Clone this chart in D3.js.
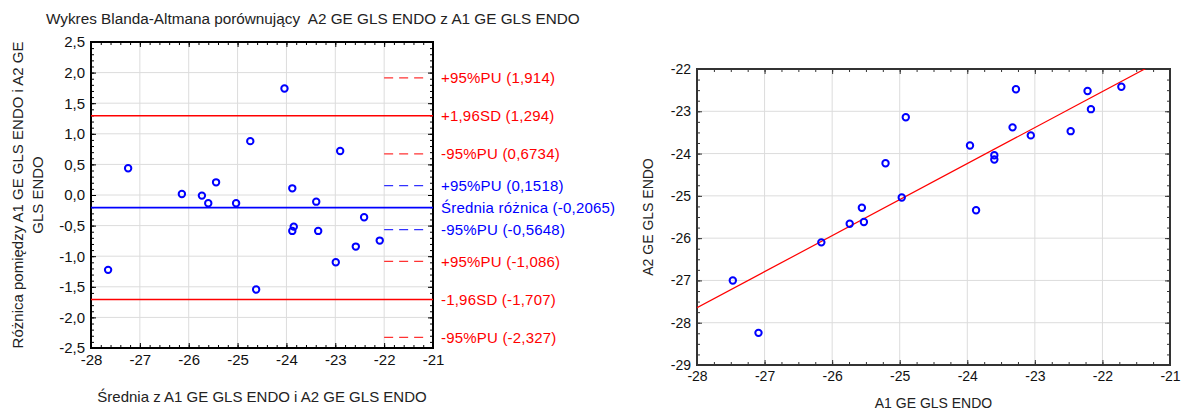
<!DOCTYPE html>
<html>
<head>
<meta charset="utf-8">
<script src="https://cdn.jsdelivr.net/npm/d3@7"></script>
<style>
  body { margin: 0; background: #fff; }
  svg { font-family: "Liberation Sans", Arial, sans-serif; }
</style>
</head>
<body>
<script>
// Bland-Altman: mean of both measurements, difference
var baMean = [-27.24, -26.14, -25.73, -25.60, -25.44, -25.03, -24.74, -24.04, -23.88, -23.39,
              -22.90, -22.41, -23.88, -23.85, -23.35, -22.09, -22.58, -22.99, -27.65, -24.62];
var baDiff = [0.436, 0.016, -0.010, -0.135, 0.207, -0.135, 0.880, 1.740, 0.109, -0.109,
              0.718, -0.364, -0.587, -0.517, -0.587, -0.745, -0.843, -1.098, -1.223, -1.545];

// reference lines of the Bland-Altman plot
var refValues = [1.914, 1.294, 0.6734, 0.1518, -0.2065, -0.5648, -1.086, -1.707, -2.327];
var refLabels = ['+95%PU (1,914)', '+1,96SD (1,294)', '-95%PU (0,6734)', '+95%PU (0,1518)',
                 'Średnia różnica (-0,2065)', '-95%PU (-0,5648)', '+95%PU (-1,086)',
                 '-1,96SD (-1,707)', '-95%PU (-2,327)'];
var refColors = ['red', 'red', 'red', 'blue', 'blue', 'blue', 'red', 'red', 'red'];
var refDashed = [true, false, true, true, false, true, true, false, true];

// scatter A1 vs A2
var a1 = [-24.91, -25.21, -24.97, -25.56, -25.74, -25.53, -23.28, -22.22, -21.72, -22.17,
          -23.33, -23.06, -22.47, -23.96, -23.60, -23.60, -23.87, -26.16, -27.47, -27.09];
var a2 = [-23.14, -24.23, -25.04, -25.28, -25.66, -25.62, -22.48, -22.52, -22.42, -22.95,
          -23.38, -23.57, -23.47, -23.81, -24.04, -24.14, -25.34, -26.10, -27.00, -28.24];
var fitSlope = 0.852, fitIntercept = -3.789;

var baXTicks = [-28, -27, -26, -25, -24, -23, -22, -21];
var baYTicks = [2.5, 2.0, 1.5, 1.0, 0.5, 0.0, -0.5, -1.0, -1.5, -2.0, -2.5];
var scXTicks = [-28, -27, -26, -25, -24, -23, -22, -21];
var scYTicks = [-22, -23, -24, -25, -26, -27, -28, -29];

var RED = '#ff0000', BLUE = '#0000ff';
var colorOf = { red: RED, blue: BLUE };
var fmtComma = function(d) { return d3.format('.1f')(d).replace('.', ',').replace('−', '-'); };
var fmtInt = function(d) { return d3.format('d')(d).replace('−', '-'); };

var svg = d3.select('body').append('svg')
    .attr('width', 1184)
    .attr('height', 410);

function range(a, b, step) {
    var out = [];
    for (var v = a; v <= b + 1e-9; v += step) out.push(+v.toFixed(4));
    return out;
}

// frame, grid and inward ticks on all four sides
function drawFrame(g, x, y, xTicks, yTicks, xMinor, yMinor, xFmt, yFmt, frameColor, fontSize) {
    var w = x.range()[1], h = y.range()[0];

    g.append('g').selectAll('line').data(xTicks.slice(1, -1)).join('line')
        .attr('x1', x).attr('x2', x).attr('y1', 0).attr('y2', h)
        .attr('stroke', '#dcdcdc');
    g.append('g').selectAll('line').data(yTicks.slice(1, -1)).join('line')
        .attr('y1', y).attr('y2', y).attr('x1', 0).attr('x2', w)
        .attr('stroke', '#dcdcdc');

    var axes = [
        [d3.axisBottom(x), 'translate(0,' + h + ')', xTicks, xMinor, xFmt],
        [d3.axisTop(x), 'translate(0,0)', xTicks, xMinor, null],
        [d3.axisLeft(y), 'translate(0,0)', yTicks, yMinor, yFmt],
        [d3.axisRight(y), 'translate(' + w + ',0)', yTicks, yMinor, null]
    ];
    axes.forEach(function(a) {
        var minor = g.append('g').attr('transform', a[1])
            .call(a[0].tickValues(a[3]).tickSize(-3).tickFormat(''));
        minor.select('.domain').remove();
        minor.selectAll('line').attr('stroke', frameColor);

        var major = g.append('g').attr('transform', a[1])
            .call(a[0].tickValues(a[2]).tickSize(-5).tickPadding(6).tickFormat(a[4] || ''));
        major.select('.domain').remove();
        major.selectAll('line').attr('stroke', frameColor);
        major.selectAll('text')
            .attr('font-size', fontSize)
            .attr('fill', '#111')
            .attr('font-family', '"Liberation Sans", Arial, sans-serif');
    });

    g.append('rect')
        .attr('width', w).attr('height', h)
        .attr('fill', 'none')
        .attr('stroke', frameColor)
        .attr('stroke-width', 2);
}

// ---------- left: Bland-Altman ----------
var L = { left: 91, top: 42, width: 342, height: 306 };
var gL = svg.append('g').attr('transform', 'translate(' + L.left + ',' + L.top + ')');

var xL = d3.scaleLinear().domain([-28, -21]).range([0, L.width]);
var yL = d3.scaleLinear().domain([-2.5, 2.5]).range([L.height, 0]);

drawFrame(gL, xL, yL, baXTicks, baYTicks, range(-28, -21, 0.2), range(-2.5, 2.5, 0.1),
          fmtInt, fmtComma, '#000', 15);

gL.append('g').selectAll('line').data(refValues).join('line')
    .attr('x1', function(d, i) { return refDashed[i] ? xL(-22) : 0; })
    .attr('x2', function(d, i) { return refDashed[i] ? xL(-21.1) : L.width; })
    .attr('y1', yL).attr('y2', yL)
    .attr('stroke', function(d, i) { return colorOf[refColors[i]]; })
    .attr('stroke-width', function(d, i) { return refDashed[i] ? 1.2 : 1.6; })
    .attr('stroke-dasharray', function(d, i) { return refDashed[i] ? '9,6' : null; })
    .attr('opacity', function(d, i) { return refDashed[i] ? 0.8 : 1; });

gL.append('g').selectAll('circle').data(baMean).join('circle')
    .attr('cx', function(d) { return xL(d); })
    .attr('cy', function(d, i) { return yL(baDiff[i]); })
    .attr('r', 3.2)
    .attr('fill', 'none')
    .attr('stroke', BLUE)
    .attr('stroke-width', 2);

gL.append('g').selectAll('text').data(refLabels).join('text')
    .attr('x', L.width + 8)
    .attr('y', function(d, i) { return yL(refValues[i]); })
    .attr('dy', '0.35em')
    .attr('font-size', 15)
    .attr('letter-spacing', 0.2)
    .attr('fill', function(d, i) { return colorOf[refColors[i]]; })
    .text(function(d) { return d; });

svg.append('text')
    .attr('x', 46).attr('y', 24)
    .attr('font-size', 15.3)
    .attr('fill', '#222')
    .attr('xml:space', 'preserve')
    .text('Wykres Blanda-Altmana porównujący  A2 GE GLS ENDO z A1 GE GLS ENDO');

svg.append('text')
    .attr('x', L.left + L.width / 2).attr('y', 402)
    .attr('text-anchor', 'middle')
    .attr('font-size', 15)
    .attr('fill', '#222')
    .text('Średnia z A1 GE GLS ENDO i A2 GE GLS ENDO');

var yTitle = svg.append('text')
    .attr('transform', 'translate(0,' + (L.top + L.height / 2) + ') rotate(-90)')
    .attr('text-anchor', 'middle')
    .attr('font-size', 15)
    .attr('fill', '#222');
yTitle.append('tspan').attr('x', 0).attr('y', 23).text('Różnica pomiędzy A1 GE GLS ENDO i A2 GE');
yTitle.append('tspan').attr('x', 0).attr('y', 43).text('GLS ENDO');

// ---------- right: A1 vs A2 ----------
var R = { left: 697, top: 69, width: 473, height: 296 };
var gR = svg.append('g').attr('transform', 'translate(' + R.left + ',' + R.top + ')');

var xR = d3.scaleLinear().domain([-28, -21]).range([0, R.width]);
var yR = d3.scaleLinear().domain([-29, -22]).range([R.height, 0]);

drawFrame(gR, xR, yR, scXTicks, scYTicks, range(-28, -21, 0.25), range(-29, -22, 0.25),
          fmtInt, fmtInt, '#333', 14);

var clip = gR.append('clipPath').attr('id', 'clipR');
clip.append('rect').attr('width', R.width).attr('height', R.height);

var fitLine = d3.line()
    .x(function(d) { return xR(d); })
    .y(function(d) { return yR(fitIntercept + fitSlope * d); });

gR.append('path')
    .datum(xR.domain())
    .attr('d', fitLine)
    .attr('clip-path', 'url(#clipR)')
    .attr('fill', 'none')
    .attr('stroke', RED)
    .attr('stroke-width', 1.2);

gR.append('g').selectAll('circle').data(a1).join('circle')
    .attr('cx', function(d) { return xR(d); })
    .attr('cy', function(d, i) { return yR(a2[i]); })
    .attr('r', 3.2)
    .attr('fill', 'none')
    .attr('stroke', BLUE)
    .attr('stroke-width', 2);

svg.append('text')
    .attr('x', R.left + R.width / 2).attr('y', 408)
    .attr('text-anchor', 'middle')
    .attr('font-size', 14)
    .attr('fill', '#222')
    .text('A1 GE GLS ENDO');

svg.append('text')
    .attr('transform', 'translate(653,' + (R.top + R.height / 2) + ') rotate(-90)')
    .attr('text-anchor', 'middle')
    .attr('font-size', 14)
    .attr('fill', '#222')
    .text('A2 GE GLS ENDO');
</script>
</body>
</html>
